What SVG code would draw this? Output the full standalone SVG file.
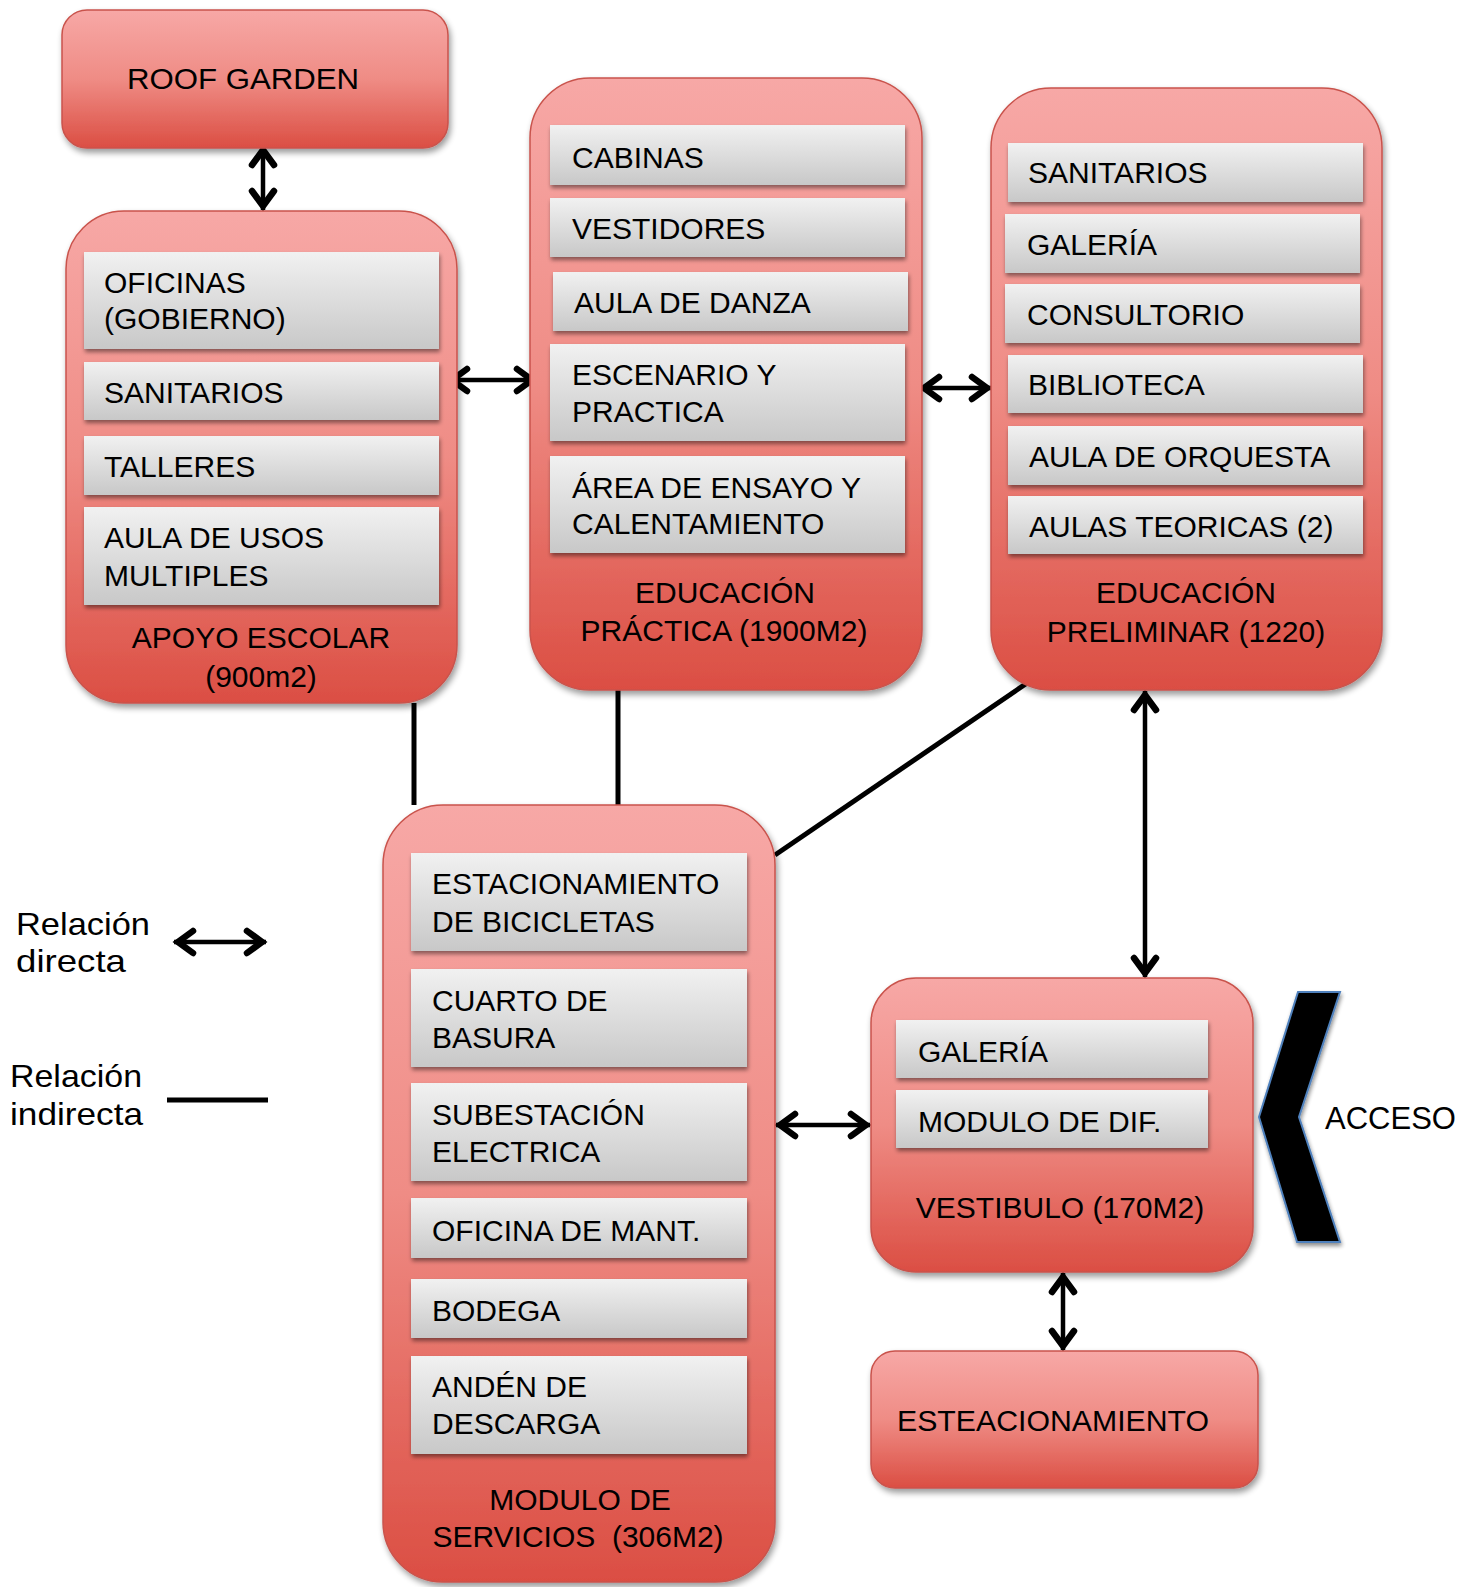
<svg xmlns="http://www.w3.org/2000/svg" width="1475" height="1587" viewBox="0 0 1475 1587">
<defs>
<linearGradient id="red" x1="0" y1="0" x2="0" y2="1">
<stop offset="0" stop-color="#f7a8a6"/>
<stop offset="0.5" stop-color="#ef8c85"/>
<stop offset="1" stop-color="#db4e43"/>
</linearGradient>
<linearGradient id="grey" x1="0" y1="0" x2="0" y2="1">
<stop offset="0" stop-color="#f1f1f1"/>
<stop offset="1" stop-color="#c8c8c8"/>
</linearGradient>
<filter id="sh" x="-10%" y="-10%" width="125%" height="125%">
<feGaussianBlur in="SourceAlpha" stdDeviation="3"/>
<feOffset dx="2" dy="4"/>
<feComponentTransfer><feFuncA type="linear" slope="0.4"/></feComponentTransfer>
<feMerge><feMergeNode/><feMergeNode in="SourceGraphic"/></feMerge>
</filter>
<filter id="sh2" x="-10%" y="-20%" width="125%" height="150%">
<feGaussianBlur in="SourceAlpha" stdDeviation="2"/>
<feOffset dx="1" dy="3"/>
<feComponentTransfer><feFuncA type="linear" slope="0.45"/></feComponentTransfer>
<feMerge><feMergeNode/><feMergeNode in="SourceGraphic"/></feMerge>
</filter>
<marker id="ah" viewBox="-28 -16 32 32" refX="0" refY="0" markerWidth="32" markerHeight="32" markerUnits="userSpaceOnUse" orient="auto-start-reverse">
<path d="M-19,-11 L-4,0 L-19,11" fill="none" stroke="#000" stroke-width="6.5" stroke-linecap="round" stroke-linejoin="miter"/>
</marker>
</defs>
<style>
.box{fill:url(#red);stroke:#c9534c;stroke-width:1.5;filter:url(#sh)}
.item{fill:url(#grey);filter:url(#sh2)}
text{font-family:"Liberation Sans",Arial,sans-serif;font-size:30px;fill:#000}
.c{text-anchor:middle}
.lg{font-size:32px}
.dir{stroke:#000;stroke-width:4.5;fill:none;marker-start:url(#ah);marker-end:url(#ah)}
.ind{stroke:#000;stroke-width:5;fill:none}
</style>

<g id="connectors">
<line class="dir" x1="263" y1="146" x2="263" y2="210"/>
<line class="dir" x1="448" y1="380" x2="536" y2="380"/>
<line class="dir" x1="920" y1="388" x2="991" y2="388"/>
<line class="dir" x1="1145" y1="691" x2="1145" y2="977"/>
<line class="dir" x1="776" y1="1125" x2="870" y2="1125"/>
<line class="dir" x1="1063" y1="1273" x2="1063" y2="1350"/>
<line class="ind" x1="414" y1="703" x2="414" y2="805"/>
<line class="ind" x1="618" y1="690" x2="618" y2="805"/>
<line class="ind" x1="1030" y1="681" x2="775" y2="855"/>
</g>

<g id="roof-garden">
<rect class="box" x="62" y="10" width="386" height="138" rx="25"/>
<text x="127" y="89" textLength="232" lengthAdjust="spacingAndGlyphs">ROOF GARDEN</text>
</g>

<g id="apoyo-escolar">
<rect class="box" x="66" y="211" width="391" height="492" rx="58"/>
<rect class="item" x="84" y="252" width="355" height="97"/>
<text x="104" y="293">OFICINAS</text>
<text x="104" y="329">(GOBIERNO)</text>
<rect class="item" x="84" y="362" width="355" height="58"/>
<text x="104" y="403">SANITARIOS</text>
<rect class="item" x="84" y="436" width="355" height="59"/>
<text x="104" y="477">TALLERES</text>
<rect class="item" x="84" y="507" width="355" height="98"/>
<text x="104" y="548">AULA DE USOS</text>
<text x="104" y="586">MULTIPLES</text>
<text class="c" x="261" y="648">APOYO ESCOLAR</text>
<text class="c" x="261" y="687">(900m2)</text>
</g>

<g id="educacion-practica">
<rect class="box" x="530" y="78" width="392" height="612" rx="60"/>
<rect class="item" x="550" y="125" width="355" height="60"/>
<text x="572" y="168">CABINAS</text>
<rect class="item" x="550" y="198" width="355" height="59"/>
<text x="572" y="239">VESTIDORES</text>
<rect class="item" x="553" y="272" width="355" height="59"/>
<text x="574" y="313">AULA DE DANZA</text>
<rect class="item" x="550" y="344" width="355" height="97"/>
<text x="572" y="385">ESCENARIO Y</text>
<text x="572" y="422">PRACTICA</text>
<rect class="item" x="550" y="456" width="355" height="97"/>
<text x="572" y="498">ÁREA DE ENSAYO Y</text>
<text x="572" y="534">CALENTAMIENTO</text>
<text class="c" x="725" y="603">EDUCACIÓN</text>
<text class="c" x="724" y="641">PRÁCTICA (1900M2)</text>
</g>

<g id="educacion-preliminar">
<rect class="box" x="991" y="88" width="391" height="602" rx="60"/>
<rect class="item" x="1008" y="143" width="355" height="59"/>
<text x="1028" y="183">SANITARIOS</text>
<rect class="item" x="1005" y="214" width="355" height="59"/>
<text x="1027" y="255">GALERÍA</text>
<rect class="item" x="1005" y="284" width="355" height="59"/>
<text x="1027" y="325">CONSULTORIO</text>
<rect class="item" x="1008" y="355" width="355" height="58"/>
<text x="1028" y="395">BIBLIOTECA</text>
<rect class="item" x="1008" y="426" width="355" height="59"/>
<text x="1029" y="467">AULA DE ORQUESTA</text>
<rect class="item" x="1008" y="496" width="355" height="58"/>
<text x="1029" y="537">AULAS TEORICAS (2)</text>
<text class="c" x="1186" y="603">EDUCACIÓN</text>
<text class="c" x="1186" y="642">PRELIMINAR (1220)</text>
</g>

<g id="modulo-servicios">
<rect class="box" x="383" y="805" width="392" height="777" rx="60"/>
<rect class="item" x="411" y="853" width="336" height="98"/>
<text x="432" y="894">ESTACIONAMIENTO</text>
<text x="432" y="932">DE BICICLETAS</text>
<rect class="item" x="411" y="969" width="336" height="98"/>
<text x="432" y="1011">CUARTO DE</text>
<text x="432" y="1048">BASURA</text>
<rect class="item" x="411" y="1083" width="336" height="98"/>
<text x="432" y="1125">SUBESTACIÓN</text>
<text x="432" y="1162">ELECTRICA</text>
<rect class="item" x="411" y="1198" width="336" height="60"/>
<text x="432" y="1241">OFICINA DE MANT.</text>
<rect class="item" x="411" y="1279" width="336" height="59"/>
<text x="432" y="1321">BODEGA</text>
<rect class="item" x="411" y="1356" width="336" height="98"/>
<text x="432" y="1397">ANDÉN DE</text>
<text x="432" y="1434">DESCARGA</text>
<text class="c" x="580" y="1510">MODULO DE</text>
<text class="c" x="578" y="1547" style="white-space:pre">SERVICIOS  (306M2)</text>
</g>

<g id="vestibulo">
<rect class="box" x="871" y="978" width="382" height="294" rx="45"/>
<rect class="item" x="896" y="1020" width="312" height="58"/>
<text x="918" y="1062">GALERÍA</text>
<rect class="item" x="896" y="1090" width="312" height="58"/>
<text x="918" y="1132">MODULO DE DIF.</text>
<text class="c" x="1060" y="1218">VESTIBULO (170M2)</text>
</g>

<g id="estacionamiento">
<rect class="box" x="871" y="1351" width="387" height="137" rx="24"/>
<text x="897" y="1431" textLength="312" lengthAdjust="spacingAndGlyphs">ESTEACIONAMIENTO</text>
</g>

<g id="acceso">
<polygon points="1298,992 1340,992 1299,1117 1340,1242 1297,1242 1259,1117" fill="#000" stroke="#4f81bd" stroke-width="2" filter="url(#sh2)"/>
<text x="1325" y="1129" style="font-size:31px">ACCESO</text>
</g>

<g id="legend">
<text class="lg" x="16" y="935" textLength="134" lengthAdjust="spacingAndGlyphs">Relación</text>
<text class="lg" x="16" y="972" textLength="110" lengthAdjust="spacingAndGlyphs">directa</text>
<line class="dir" x1="174" y1="942" x2="266" y2="942"/>
<text class="lg" x="10" y="1087" textLength="132" lengthAdjust="spacingAndGlyphs">Relación</text>
<text class="lg" x="10" y="1125" textLength="133" lengthAdjust="spacingAndGlyphs">indirecta</text>
<line class="ind" x1="167" y1="1100" x2="268" y2="1100" stroke-width="6"/>
</g>
</svg>
